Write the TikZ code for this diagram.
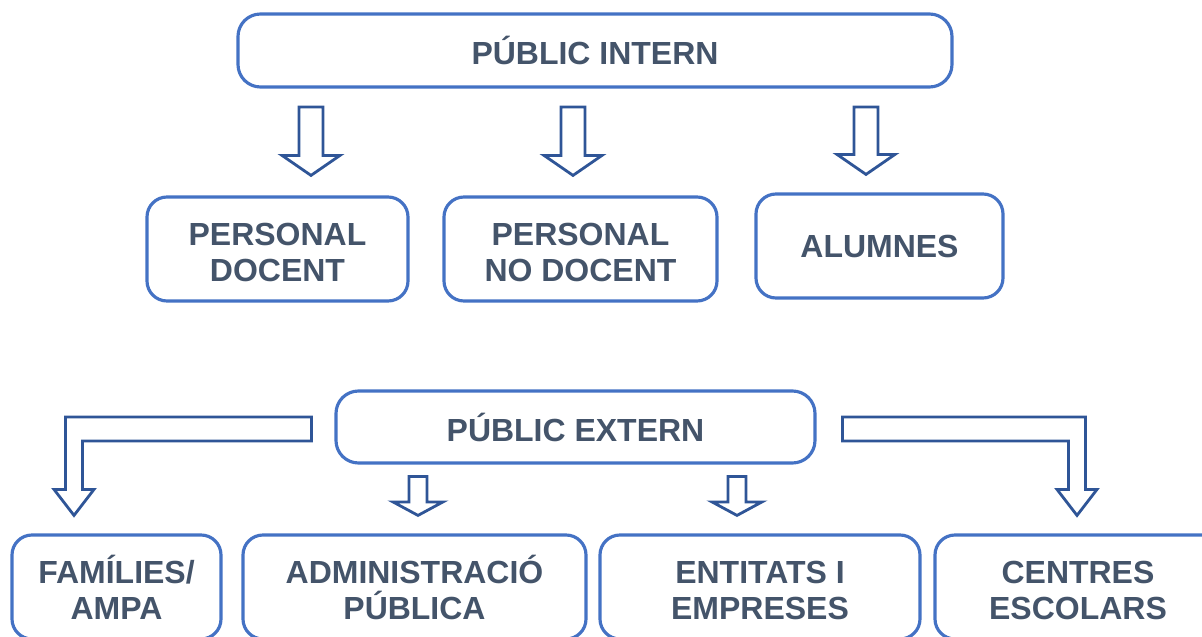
\documentclass[tikz,border=0pt]{standalone}
\usepackage{fontspec}
\setmainfont{Liberation Sans}
\usepackage{tikz}
\usetikzlibrary{calc}
\definecolor{vora}{HTML}{4472C4}
\definecolor{blaufosc}{HTML}{2F5597}
\definecolor{textgris}{HTML}{44546A}
\tikzstyle{titol} = [rectangle, rounded corners=0.45cm, minimum height=1.46cm, text centered, draw=vora, line width=1.8pt, text=textgris, font=\bfseries\fontsize{18.2}{20.5}\selectfont]
\tikzstyle{grup} = [rectangle, rounded corners=0.4cm, minimum height=2.08cm, align=center, draw=vora, line width=1.8pt, text=textgris, font=\bfseries\fontsize{18.2}{20.5}\selectfont]
\tikzstyle{fletxa} = [draw=blaufosc, line width=1.6pt, line join=miter, fill=white]
% straight block arrow: start, tip, shaft half width, head half width, head length
\newcommand{\fletxaavall}[5]{\draw[fletxa] let \p1=#1, \p2=#2 in (\x1-#3,\y1) -- (\x1+#3,\y1) -- (\x1+#3,\y2+#5) -- (\x1+#4,\y2+#5) -- (\x1,\y2) -- (\x1-#4,\y2+#5) -- (\x1-#3,\y2+#5) -- cycle;}
% bent block arrow: start, tip, side (1 = to the left, -1 = to the right)
\newcommand{\fletxacolze}[3]{\draw[fletxa] let \p1=#1, \p2=#2 in (\x1,\y1+0.24cm) -- (\x2-#3*0.17cm,\y1+0.24cm) -- (\x2-#3*0.17cm,\y2+0.52cm) -- (\x2-#3*0.4cm,\y2+0.52cm) -- (\x2,\y2) -- (\x2+#3*0.4cm,\y2+0.52cm) -- (\x2+#3*0.17cm,\y2+0.52cm) -- (\x2+#3*0.17cm,\y1-0.24cm) -- (\x1,\y1-0.24cm) -- cycle;}
\newcommand{\acc}{\vphantom{Ú}}

\begin{document}
\begin{tikzpicture}[node distance=2cm]
\useasboundingbox (0,0) rectangle (24.04,-12.74);
\node (intern) [titol, minimum width=14.28cm] at (11.9,-1.01) {PÚBLIC INTERN};
\node (docent) [grup, minimum width=5.22cm, below of=intern, xshift=-6.35cm, yshift=-1.97cm] {\acc PERSONAL\\DOCENT};
\node (nodocent) [grup, minimum width=5.46cm, below of=intern, xshift=-0.29cm, yshift=-1.97cm] {\acc PERSONAL\\NO DOCENT};
\node (alumnes) [grup, minimum width=4.94cm, below of=intern, xshift=5.69cm, yshift=-1.91cm] {ALUMNES};

\node (extern) [titol, minimum width=9.58cm, minimum height=1.44cm, below of=intern, xshift=-0.39cm, yshift=-5.53cm] {PÚBLIC EXTERN};
\node (families) [grup, minimum width=4.18cm, below of=extern, xshift=-9.18cm, yshift=-1.2cm] {FAMÍLIES/\\AMPA};
\node (admin) [grup, minimum width=6.86cm, below of=extern, xshift=-3.22cm, yshift=-1.2cm] {ADMINISTRACIÓ\\PÚBLICA};
\node (entitats) [grup, minimum width=6.4cm, below of=extern, xshift=3.69cm, yshift=-1.2cm] {\acc ENTITATS I\\EMPRESES};
\node (centres) [grup, minimum width=5.72cm, below of=extern, xshift=10.05cm, yshift=-1.2cm] {\acc CENTRES\\ESCOLARS};

\fletxaavall{($(intern.south)+(-5.68,-0.37)$)}{($(docent.north)+(0,0.4)$)}{0.24cm}{0.58cm}{0.4cm}
\fletxaavall{($(intern.south)+(-0.44,-0.37)$)}{($(nodocent.north)+(0,0.4)$)}{0.24cm}{0.58cm}{0.4cm}
\fletxaavall{($(intern.south)+(5.42,-0.37)$)}{($(alumnes.north)+(0,0.36)$)}{0.24cm}{0.58cm}{0.4cm}

\fletxacolze{($(extern.west)+(-0.46,-0.04)$)}{($(families.north)+(-0.85,0.36)$)}{1}
\fletxacolze{($(extern.east)+(0.52,-0.04)$)}{($(centres.north)+(-0.02,0.36)$)}{-1}
\fletxaavall{($(extern.south)+(-3.15,-0.24)$)}{($(admin.north)+(0,0.36)$)}{0.18cm}{0.5cm}{0.27cm}
\fletxaavall{($(extern.south)+(3.23,-0.24)$)}{($(entitats.north)+(0,0.36)$)}{0.18cm}{0.5cm}{0.27cm}
\end{tikzpicture}
\end{document}
